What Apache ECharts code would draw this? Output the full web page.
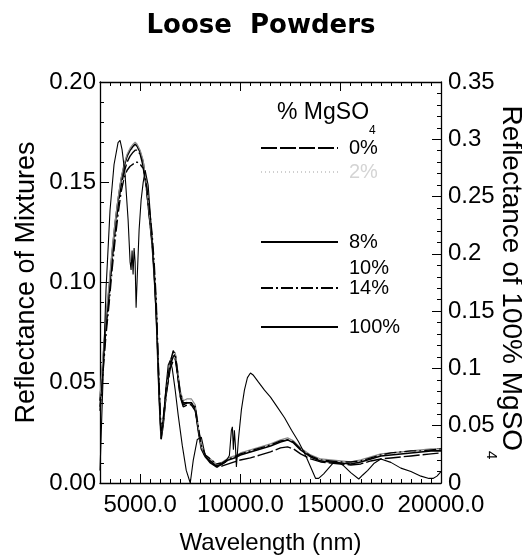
<!DOCTYPE html>
<html><head><meta charset="utf-8">
<script src="https://cdn.jsdelivr.net/npm/echarts@6/dist/echarts.min.js"></script>
<style>html,body{margin:0;padding:0;background:#fff}#c{width:522px;height:556px}</style>
</head><body><div id="c"></div>
<script>
// Wavelength grid (nm) for the mixture spectra
const wlMix = [3000,3150,3300,3450,3600,3750,3900,4050,4200,4350,
  4500,4650,4750,4850,5000,5150,5300,5450,5600,5700,
  5800,5900,6000,6050,6150,6300,6500,6650,6750,6850,
  7000,7150,7350,7550,7750,7900,8050,8250,8500,8800,
  9100,9400,9700,10000,10500,11000,11500,12000,12350,12650,
  13000,13500,14000,14500,15000,15500,16000,16500,17000,17500,
  18000,18500,19000,19500,20000];
// Reflectance of mixtures (left axis)
const mix0 = [0.038,0.058,0.077,0.092,0.110,0.125,0.138,0.148,0.155,0.160,
  0.163,0.165,0.166,0.166,0.164,0.158,0.148,0.134,0.120,0.106,
  0.088,0.060,0.034,0.024,0.030,0.044,0.057,0.061,0.062,0.055,
  0.043,0.038,0.039,0.039,0.036,0.027,0.018,0.013,0.010,0.008,
  0.0085,0.0095,0.0105,0.0115,0.0125,0.014,0.0155,0.0175,0.018,0.017,
  0.0145,0.012,0.0105,0.010,0.0095,0.009,0.0095,0.011,0.012,0.0125,
  0.013,0.0135,0.014,0.0145,0.015];
const mix2 = [0.040,0.060,0.080,0.095,0.113,0.128,0.140,0.150,0.157,0.162,
  0.165,0.167,0.168,0.167,0.164,0.159,0.148,0.133,0.118,0.103,
  0.085,0.057,0.032,0.023,0.030,0.046,0.060,0.064,0.064,0.057,
  0.045,0.040,0.041,0.041,0.038,0.027,0.017,0.013,0.011,0.009,
  0.010,0.012,0.013,0.0145,0.016,0.0175,0.019,0.021,0.022,0.0205,
  0.017,0.0135,0.0115,0.011,0.0105,0.010,0.011,0.0125,0.014,0.0145,
  0.015,0.0155,0.016,0.0165,0.0165];
const mix8 = [0.041,0.061,0.081,0.096,0.114,0.129,0.141,0.151,0.158,0.163,
  0.166,0.168,0.169,0.168,0.165,0.160,0.149,0.134,0.119,0.104,
  0.086,0.056,0.031,0.022,0.029,0.045,0.059,0.063,0.064,0.056,
  0.044,0.039,0.040,0.040,0.037,0.026,0.017,0.013,0.011,0.0085,
  0.0095,0.0115,0.0125,0.014,0.0155,0.017,0.0185,0.0205,0.0215,0.020,
  0.0165,0.013,0.011,0.0105,0.010,0.0095,0.0105,0.012,0.0135,0.014,
  0.0145,0.015,0.0155,0.016,0.016];
const mix10 = [0.043,0.064,0.084,0.099,0.116,0.130,0.142,0.152,0.159,0.164,
  0.167,0.169,0.170,0.169,0.166,0.161,0.150,0.136,0.121,0.106,
  0.088,0.058,0.033,0.023,0.031,0.047,0.061,0.065,0.065,0.058,
  0.046,0.041,0.042,0.042,0.039,0.028,0.018,0.014,0.012,0.0095,
  0.0105,0.0125,0.0135,0.015,0.0165,0.018,0.0195,0.0215,0.0225,0.021,
  0.0175,0.014,0.012,0.0115,0.011,0.0105,0.0115,0.013,0.0145,0.015,
  0.0155,0.016,0.0165,0.017,0.017];
const mix14 = [0.036,0.055,0.074,0.089,0.106,0.121,0.134,0.145,0.152,0.156,
  0.158,0.159,0.160,0.160,0.159,0.157,0.150,0.138,0.124,0.110,
  0.092,0.062,0.036,0.026,0.032,0.047,0.060,0.066,0.064,0.057,
  0.045,0.040,0.040,0.040,0.038,0.028,0.019,0.014,0.012,0.0095,
  0.010,0.012,0.013,0.0145,0.016,0.0175,0.019,0.021,0.0215,0.0205,
  0.017,0.0135,0.0115,0.011,0.0105,0.0105,0.011,0.0125,0.014,0.015,
  0.0155,0.016,0.016,0.0165,0.017];
// 100% MgSO4 (right axis)
const wl100 = [3000,3150,3300,3500,3700,3900,4000,4100,4250,4400,
  4500,4550,4600,4650,4700,4750,4800,4850,4950,5050,
  5150,5250,5400,5550,5700,5850,5950,6050,6150,6300,
  6400,6500,6600,6750,6900,7100,7300,7500,7650,7850,
  8050,8250,8500,8850,9250,9450,9550,9600,9650,9700,
  9750,9800,9900,10050,10200,10350,10500,10650,10900,11200,
  11500,11850,12200,12550,12900,13250,13500,13750,13900,14150,
  14400,14650,14900,15150,15500,15900,16100,16350,16650,17000,
  17500,18000,18500,19000,19400,19600,19800,20000];
const mg100 = [0.011,0.090,0.169,0.238,0.278,0.297,0.299,0.291,0.269,0.230,
  0.193,0.186,0.203,0.182,0.205,0.193,0.153,0.177,0.221,0.247,
  0.262,0.273,0.260,0.225,0.182,0.125,0.073,0.038,0.055,0.086,
  0.103,0.107,0.100,0.081,0.059,0.033,0.011,0.000,0.020,0.038,
  0.040,0.024,0.018,0.014,0.018,0.024,0.046,0.049,0.029,0.046,
  0.033,0.014,0.038,0.064,0.081,0.092,0.096,0.094,0.088,0.081,
  0.075,0.066,0.057,0.046,0.036,0.024,0.014,0.004,0.004,0.008,
  0.013,0.018,0.018,0.015,0.009,0.0035,0.007,0.011,0.017,0.021,
  0.018,0.013,0.010,0.006,0.004,0.004,0.006,0.010];
// Axis ticks / labels
const xMajor = [5000,10000,15000,20000];
const seriesNames = ['0%','2%','8%','10%','14%','100%'];

const F = '"Liberation Sans", Arial, Helvetica, sans-serif';
const chart = echarts.init(document.getElementById('c'), null, {renderer:'canvas'});
const zip = (xs, ys) => xs.map((x, i) => [x, ys[i]]);
const black = '#000';

function minorX(pos){
  return {type:'value', min:3000, max:20000, interval:500, position:pos,
    axisLine:{show:true, onZero:false, lineStyle:{color:black, width:1.3}},
    axisTick:{show:true, inside:true, length:4, lineStyle:{color:black}},
    axisLabel:{show:false}, splitLine:{show:false}};
}
function majorX(pos, withLabels){
  const a = {type:'value', min:3000, max:20000, interval:500, position:pos,
    axisLine:{show:false, onZero:false},
    axisTick:{show:true, inside:true, length:9, customValues:xMajor, lineStyle:{color:black}},
    axisLabel:{show:withLabels, customValues:xMajor, formatter:v=>v.toFixed(1), fontSize:24, fontFamily:F, color:black, margin:10,
      alignMinLabel:'center', alignMaxLabel:'center', hideOverlap:false},
    splitLine:{show:false}};
  if (withLabels) {
    a.name = 'Wavelength (nm)'; a.nameLocation = 'middle'; a.nameGap = 48; a.nameMoveOverlap = false;
    a.nameTextStyle = {fontSize:24, fontFamily:F, color:black};
  }
  return a;
}

const legendTops = {'0%':133,'2%':157,'8%':227,'10%':253,'14%':273,'100%':312};
const legends = seriesNames.map(n => ({
  data:[n === '10%' ? {name:n, lineStyle:{opacity:0}} : {name:n}],
  left:255, top:legendTops[n], itemWidth:77, itemHeight:14, selectedMode:false,
  itemStyle:{opacity:0},
  textStyle:{fontSize:20, fontFamily:F, color: n === '2%' ? '#d4d4d4' : black, padding:[0,0,0,6]}
}));

const lineStyles = {
  '0%':{color:black, width:1.4, type:[16,3]},
  '2%':{color:'#cfcfcf', width:1.2, type:[1,3]},
  '8%':{color:black, width:1.6, type:'solid'},
  '10%':{color:'#8a8a8a', width:1.2, type:'solid'},
  '14%':{color:black, width:1.4, type:[12,3,2,3]},
  '100%':{color:black, width:1.1, type:'solid'}
};
const mixData = {'0%':mix0,'2%':mix2,'8%':mix8,'10%':mix10,'14%':mix14};
const series = seriesNames.map(n => ({
  name:n, type:'line', symbol:'none', smooth:false,
  xAxisIndex:0, yAxisIndex: n === '100%' ? 1 : 0,
  data: n === '100%' ? zip(wl100, mg100) : zip(wlMix, mixData[n]),
  lineStyle: lineStyles[n], itemStyle:{color: lineStyles[n].color},
  z: n === '2%' ? 1 : 2
}));

chart.setOption({
  animation:false,
  backgroundColor:'#fff',
  title:[
    {text:'Loose  Powders', left:'center', top:8,
     textStyle:{fontFamily:'"DejaVu Sans", sans-serif', fontWeight:'bold', fontSize:26, color:black}},
    {text:'% MgSO{s|4}', left:272, top:84,
     textStyle:{fontFamily:F, fontSize:23, fontWeight:'normal', color:black, lineHeight:48,
       rich:{s:{fontFamily:F, fontSize:12, lineHeight:12, verticalAlign:'bottom', color:black}}}}
  ],
  legend: legends,
  grid:{left:100, right:81, top:82, bottom:73, containLabel:false, outerBoundsMode:'none'},
  xAxis:[minorX('bottom'), majorX('bottom', true), minorX('top'), majorX('top', false)],
  yAxis:[
    {type:'value', position:'left', min:0, max:0.2, interval:0.05,
     axisLine:{show:true, onZero:false, lineStyle:{color:black, width:1.3}},
     axisTick:{show:true, inside:true, length:9, lineStyle:{color:black}},
     minorTick:{show:true, splitNumber:5, length:4, lineStyle:{color:black}},
     axisLabel:{formatter:v=>v.toFixed(2), fontSize:24, fontFamily:F, color:black, margin:4},
     splitLine:{show:false},
     name:'Reflectance of Mixtures', nameLocation:'middle', nameRotate:90, nameGap:60, nameMoveOverlap:false,
     nameTextStyle:{fontSize:27, fontFamily:F, color:black}},
    {type:'value', position:'right', min:0, max:0.35, interval:0.05,
     axisLine:{show:true, onZero:false, lineStyle:{color:black, width:1.3}},
     axisTick:{show:true, inside:true, length:9, lineStyle:{color:black}},
     minorTick:{show:true, splitNumber:5, length:4, lineStyle:{color:black}},
     axisLabel:{fontSize:24, fontFamily:F, color:black, margin:7},
     splitLine:{show:false},
     name:'Reflectance of 100% MgSO{s|4}', nameLocation:'middle', nameRotate:-90, nameGap:43, nameMoveOverlap:false,
     nameTextStyle:{fontSize:28, fontFamily:F, color:black, lineHeight:54,
       rich:{s:{fontFamily:F, fontSize:15, lineHeight:15, verticalAlign:'bottom', color:black}}}}
  ],
  series: series
});
</script></body></html>
